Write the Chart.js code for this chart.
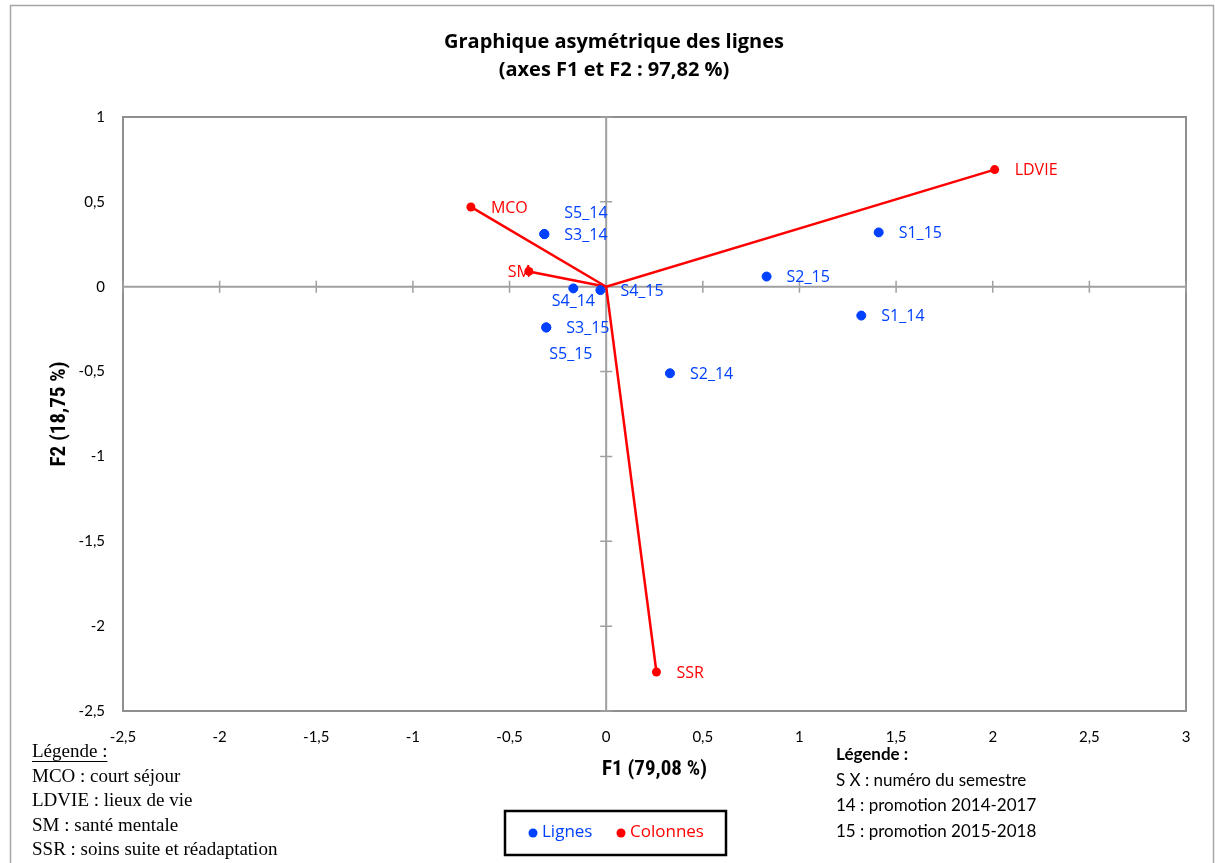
<!DOCTYPE html>
<html>
<head>
<meta charset="utf-8">
<script src="https://cdn.jsdelivr.net/npm/chart.js@4.4.0/dist/chart.umd.min.js"></script>
<style>
  html,body{margin:0;padding:0;background:#fff;}
  canvas{display:block;}
</style>
</head>
<body>
<canvas id="c" width="1215" height="863"></canvas>
<script>
// ---- Data ----
const rowNames = ['S1_14','S2_14','S3_14','S4_14','S5_14','S1_15','S2_15','S3_15','S4_15','S5_15'];
const rowF1 = [1.32, 0.33, -0.32, -0.17, -0.32, 1.41, 0.83, -0.31, -0.03, -0.31];
const rowF2 = [-0.17, -0.51, 0.31, -0.01, 0.31, 0.32, 0.06, -0.24, -0.02, -0.24];

const colNames = ['MCO','LDVIE','SM','SSR'];
const colF1 = [-0.70, 2.01, -0.40, 0.26];
const colF2 = [0.47, 0.69, 0.09, -2.27];

const xTicks = [-2.5,-2,-1.5,-1,-0.5,0,0.5,1,1.5,2,2.5,3];
const yTicks = [-2.5,-2,-1.5,-1,-0.5,0,0.5,1];

const titleLines = ['Graphique asymétrique des lignes','(axes F1 et F2 : 97,82 %)'];
const xTitle = 'F1 (79,08 %)';
const yTitle = 'F2 (18,75 %)';
const legendLeft = ['Légende :','MCO : court séjour','LDVIE : lieux de vie','SM : santé mentale','SSR : soins suite et réadaptation'];
const legendRight = ['Légende :','S X : numéro du semestre','14 : promotion 2014-2017','15 : promotion 2015-2018'];
const seriesNames = ['Lignes','Colonnes'];

// label placement (style), default: right of point
const labelOffsets = {
  'S5_14': [20,-21,'left'],
  'S4_14': [0,13,'center'],
  'S5_15': [3,27,'left'],
  'SM': [2,1,'right']
};

const BLUE = '#0040FF';
const RED = '#FF0000';
const CAL = 'Lato, "Open Sans", sans-serif';
const OS = '"Open Sans", Lato, sans-serif';

const fmt = v => String(v).replace('.', ',');

const rowData = rowNames.map((n,i)=>({x:rowF1[i], y:rowF2[i]}));
const colData = [];
colNames.forEach((n,i)=>{ colData.push({x:0,y:0}); colData.push({x:colF1[i], y:colF2[i]}); });

const deco = {
  id:'deco',
  beforeDraw(chart){
    const ctx = chart.ctx;
    ctx.save();
    ctx.fillStyle = '#fff';
    ctx.fillRect(0,0,chart.width,chart.height);
    ctx.strokeStyle = '#a6a6a6';
    ctx.lineWidth = 1.5;
    ctx.strokeRect(10.5,5.5,1203,950);
    ctx.restore();
  },
  beforeDatasetsDraw(chart){
    const {ctx, chartArea:a, scales:{x, y}} = chart;
    ctx.save();
    ctx.strokeStyle = '#8f8f8f';
    ctx.lineWidth = 2;
    ctx.strokeRect(a.left, a.top, a.right-a.left, a.bottom-a.top);
    const x0 = x.getPixelForValue(0), y0 = y.getPixelForValue(0);
    ctx.strokeStyle = '#a0a0a0';
    ctx.lineWidth = 2;
    ctx.beginPath();
    ctx.moveTo(a.left, y0); ctx.lineTo(a.right, y0);
    ctx.moveTo(x0, a.top); ctx.lineTo(x0, a.bottom);
    ctx.stroke();
    ctx.lineWidth = 1.5;
    ctx.beginPath();
    xTicks.forEach(v=>{ if(v===0) return; const px = x.getPixelForValue(v); ctx.moveTo(px, y0-6); ctx.lineTo(px, y0+6); });
    yTicks.forEach(v=>{ if(v===0) return; const py = y.getPixelForValue(v); ctx.moveTo(x0-6, py); ctx.lineTo(x0+6, py); });
    ctx.stroke();
    ctx.restore();
  },
  afterDatasetsDraw(chart){
    const ctx = chart.ctx;
    ctx.save();
    ctx.font = '16px ' + OS;
    ctx.textBaseline = 'middle';
    const put = (name, el, color) => {
      const o = labelOffsets[name] || [20,1,'left'];
      ctx.fillStyle = color;
      ctx.textAlign = o[2];
      ctx.fillText(name, el.x + o[0], el.y + o[1]);
    };
    const m0 = chart.getDatasetMeta(0);
    rowNames.forEach((n,i)=> put(n, m0.data[i], BLUE));
    const m1 = chart.getDatasetMeta(1);
    colNames.forEach((n,i)=> put(n, m1.data[2*i+1], RED));
    ctx.restore();
  },
  afterDraw(chart){
    const {ctx, chartArea:a} = chart;
    ctx.save();
    ctx.fillStyle = '#000';
    ctx.textBaseline = 'middle';
    ctx.textAlign = 'center';
    ctx.font = 'bold 20px ' + OS;
    ctx.fillText(titleLines[0], 614, 42);
    ctx.fillText(titleLines[1], 614, 70);
    ctx.font = 'bold 21px "Liberation Sans Narrow", "Roboto Condensed", Roboto, sans-serif';
    ctx.fillText(xTitle, (a.left+a.right)/2, 770);
    ctx.save();
    ctx.translate(60, (a.top+a.bottom)/2);
    ctx.rotate(-Math.PI/2);
    ctx.fillText(yTitle, 0, 0);
    ctx.restore();
    ctx.textAlign = 'left';
    ctx.font = '19px "Liberation Serif", "Times New Roman", serif';
    const ly = [752, 777, 801, 826, 850];
    legendLeft.forEach((t,i)=>{ ctx.fillText(t, 32, ly[i]); });
    const w0 = ctx.measureText(legendLeft[0]).width;
    ctx.lineWidth = 1;
    ctx.strokeStyle = '#000';
    ctx.beginPath(); ctx.moveTo(32, 761.5); ctx.lineTo(32+w0, 761.5); ctx.stroke();
    const ry = [755, 781, 806, 832];
    legendRight.forEach((t,i)=>{
      ctx.font = (i===0 ? 'bold ' : '') + '17px ' + CAL;
      ctx.fillText(t, 836, ry[i]);
    });
    ctx.lineWidth = 2.5;
    ctx.strokeStyle = '#000';
    ctx.strokeRect(505, 811, 221, 44);
    ctx.font = '17px ' + OS;
    ctx.fillStyle = BLUE;
    ctx.beginPath(); ctx.arc(533, 833, 4.5, 0, Math.PI*2); ctx.fill();
    ctx.fillText(seriesNames[0], 542, 832);
    ctx.fillStyle = RED;
    ctx.beginPath(); ctx.arc(621, 833, 4.5, 0, Math.PI*2); ctx.fill();
    ctx.fillText(seriesNames[1], 630, 832);
    ctx.restore();
  }
};

new Chart(document.getElementById('c'), {
  type: 'scatter',
  data: {
    datasets: [
      {
        label: seriesNames[0],
        data: rowData,
        backgroundColor: BLUE,
        borderColor: BLUE,
        pointRadius: 4.5,
        pointHoverRadius: 4.5,
        showLine: false
      },
      {
        label: seriesNames[1],
        data: colData,
        backgroundColor: RED,
        borderColor: RED,
        borderWidth: 2.5,
        showLine: true,
        tension: 0,
        pointRadius: c => (c.dataIndex % 2 ? 4.5 : 0),
        pointBorderWidth: 0,
        pointHoverRadius: c => (c.dataIndex % 2 ? 4.5 : 0)
      }
    ]
  },
  options: {
    responsive: false,
    animation: false,
    devicePixelRatio: 1,
    layout: { padding: { top: 117, right: 29, bottom: 102, left: 0 } },
    plugins: { legend: { display: false }, tooltip: { enabled: false }, title: { display: false } },
    scales: {
      x: {
        type: 'linear', min: -2.5, max: 3,
        afterFit: s => { s.height = 50; },
        afterBuildTicks: s => { s.ticks = xTicks.map(v=>({value:v})); },
        grid: { display: false, drawTicks: false, tickLength: 0 },
        border: { display: false },
        ticks: { autoSkip: false, padding: 17, color: '#000', font: { family: CAL, size: 15 }, callback: v => fmt(v), maxRotation: 0 }
      },
      y: {
        type: 'linear', min: -2.5, max: 1,
        afterFit: s => { s.width = 123; },
        afterBuildTicks: s => { s.ticks = yTicks.map(v=>({value:v})); },
        grid: { display: false, drawTicks: false, tickLength: 0 },
        border: { display: false },
        ticks: { autoSkip: false, padding: 18, color: '#000', font: { family: CAL, size: 15 }, callback: v => fmt(v) }
      }
    }
  },
  plugins: [deco]
});
</script>
</body>
</html>
